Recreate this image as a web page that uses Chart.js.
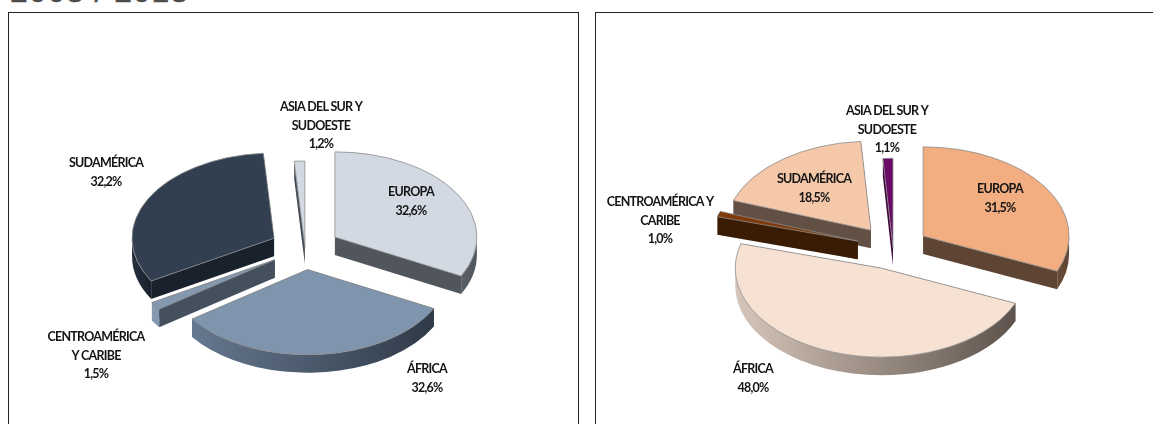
<!DOCTYPE html>
<html>
<head>
<meta charset="utf-8">
<script src="https://cdn.jsdelivr.net/npm/chart.js@4"></script>
<style>
  html, body { margin: 0; padding: 0; background: #fff; overflow: hidden; width: 1153px; height: 424px; }
  #titulo { position: absolute; left: 10px; top: -27px; font: 32px "Liberation Sans", sans-serif; color: #4d4d4d; letter-spacing: 0.9px; white-space: nowrap; -webkit-text-stroke: 0.4px #4d4d4d; }
  .panel { position: absolute; top: 12px; height: 420px; border: 1px solid #222; box-sizing: border-box; }
  #panel1 { left: 8px; width: 571px; }
  #panel2 { left: 595px; width: 570px; border-right: none; }
  .panel canvas { position: absolute; left: 0; top: 0; }
</style>
</head>
<body>
<div id="titulo">2003 / 2013</div>
<div class="panel" id="panel1"><canvas id="pie1" width="570" height="412"></canvas></div>
<div class="panel" id="panel2"><canvas id="pie2" width="558" height="412"></canvas></div>
<script>
const categories1 = [['EUROPA'], ['ÁFRICA'], ['CENTROAMÉRICA', 'Y CARIBE'], ['SUDAMÉRICA'], ['ASIA DEL SUR Y', 'SUDOESTE']];
const categories2 = [['EUROPA'], ['ÁFRICA'], ['CENTROAMÉRICA Y', 'CARIBE'], ['SUDAMÉRICA'], ['ASIA DEL SUR Y', 'SUDOESTE']];
const values1 = [32.6, 32.6, 1.5, 32.2, 1.2];
const values2 = [31.5, 48.0, 1.0, 18.5, 1.1];

const top1 = ['#d2d9e2', '#7f95ae', '#8498b0', '#323f50', '#d2d9e2'];
const top2 = ['#f2ae80', '#f6e1d3', '#7f3a0b', '#f5c8a9', '#6a0a66'];
const face1 = ['#50565c', '#3a4656', '#45505f', '#18212c', '#444c56'];
const face2 = ['#5e4433', '#6a5f57', '#3a1b03', '#635045', '#3d0339'];
const rim1 = [['#5c6166', '#50565c'], ['#66788f', '#2f3a48'], ['#8498b0', '#8498b0'], ['#26303d', '#18212c'], ['#444c56', '#444c56']];
const rim2 = [['#6a4c38', '#5e4433'], ['#d7c6ba', '#5d534c'], ['#3a1b03', '#3a1b03'], ['#635045', '#635045'], ['#3d0339', '#3d0339']];

// apertura de cada sector y sitio del rotulo (centro, primera linea)
const explode1 = [35, 36, 36, 35, 3];
const explode2 = [36, 35, 37, 36.5, 1];
const labelAt1 = [[411, 192], [427, 369], [96, 337], [106, 163], [321, 107]];
const labelAt2 = [[1000, 189], [753, 369], [660, 202], [814, 179], [887, 111]];

function pct(v) {
  return v.toFixed(1).replace('.', ',') + '%';
}

const pie3d = {
  id: 'pie3d',
  afterDatasetsUpdate(chart, args, opts) {
    const arcs = chart.getDatasetMeta(0).data;
    arcs.forEach((arc, i) => {
      const mid = (arc.startAngle + arc.endAngle) / 2;
      arc.baseX = chart.chartArea.left + chart.chartArea.width / 2;
      arc.baseY = chart.chartArea.top + chart.chartArea.height / 2;
      arc.x = arc.baseX + Math.cos(mid) * opts.explode[i];
      arc.y = arc.baseY + Math.sin(mid) * opts.explode[i];
    });
  },
  beforeDatasetsDraw(chart, args, opts) {
    const ctx = chart.ctx;
    const arcs = chart.getDatasetMeta(0).data;
    const cy = arcs[0].baseY;
    const t = opts.tilt;
    const d = opts.depth;
    const order = arcs.map((a, i) => i).sort((p, q) => {
      const mp = (arcs[p].startAngle + arcs[p].endAngle) / 2;
      const mq = (arcs[q].startAngle + arcs[q].endAngle) / 2;
      return (arcs[p].y + Math.sin(mp) * 60) - (arcs[q].y + Math.sin(mq) * 60);
    });

    order.forEach(i => {
      const arc = arcs[i];
      const R = arc.outerRadius;
      const ax = arc.x;
      const ay = cy + (arc.y - cy) * t;
      [arc.endAngle, arc.startAngle].forEach(ang => {
        const px = ax + Math.cos(ang) * R;
        const py = ay + Math.sin(ang) * R * t;
        ctx.beginPath();
        ctx.moveTo(ax, ay);
        ctx.lineTo(px, py);
        ctx.lineTo(px, py + d);
        ctx.lineTo(ax, ay + d);
        ctx.closePath();
        ctx.fillStyle = opts.face[i];
        ctx.fill();
      });
      // only the front half of the outer wall can be seen
      const twoPi = Math.PI * 2;
      let a = arc.startAngle, b = arc.endAngle;
      if (b > twoPi) { a -= twoPi; b -= twoPi; }
      const from = Math.max(a, 0), to = Math.min(b, Math.PI);
      if (to > from) {
        const x0 = ax + Math.cos(to) * R, x1 = ax + Math.cos(from) * R;
        const g = ctx.createLinearGradient(x0, 0, x1, 0);
        g.addColorStop(0, opts.rim[i][0]);
        g.addColorStop(1, opts.rim[i][1]);
        ctx.beginPath();
        ctx.ellipse(ax, ay, R, R * t, 0, from, to);
        ctx.ellipse(ax, ay + d, R, R * t, 0, to, from, true);
        ctx.closePath();
        ctx.fillStyle = g;
        ctx.fill();
      }
    });

    ctx.save();
    ctx.translate(0, cy);
    ctx.scale(1, t);
    ctx.translate(0, -cy);
  },
  afterDatasetsDraw(chart) {
    chart.ctx.restore();
  },
  afterDraw(chart, args, opts) {
    const ctx = chart.ctx;
    const box = chart.canvas.getBoundingClientRect();
    const values = chart.data.datasets[0].data;
    ctx.save();
    ctx.font = 'bold 12.5px Lato, sans-serif';
    ctx.letterSpacing = '-0.75px';
    ctx.fillStyle = '#141414';
    ctx.textAlign = 'center';
    ctx.textBaseline = 'middle';
    chart.data.labels.forEach((lines, i) => {
      const x = opts.labelAt[i][0] - box.left;
      let y = opts.labelAt[i][1] - box.top;
      lines.concat(pct(values[i])).forEach(line => {
        ctx.fillText(line, x, y);
        y += 18.7;
      });
    });
    ctx.restore();
  }
};

function makePie(id, labels, values, colors, radius, extra, padding) {
  return new Chart(document.getElementById(id), {
    type: 'pie',
    data: {
      labels: labels,
      datasets: [{
        data: values,
        backgroundColor: colors,
        borderColor: '#8c8c8c',
        borderWidth: 1,
        hoverOffset: 0,
        radius: radius,
        clip: false
      }]
    },
    plugins: [pie3d],
    options: {
      animation: false,
      responsive: false,
      maintainAspectRatio: false,
      layout: { padding: padding },
      plugins: {
        legend: { display: false },
        tooltip: { enabled: false },
        pie3d: extra
      }
    }
  });
}

makePie('pie1', categories1, values1, top1, 142,
  { explode: explode1, labelAt: labelAt1, face: face1, rim: rim1, tilt: 0.6, depth: 18 },
  { left: 22, top: 58 });
makePie('pie2', categories2, values2, top2, 146,
  { explode: explode2, labelAt: labelAt2, face: face2, rim: rim2, tilt: 0.61, depth: 18 },
  { left: 36, top: 58 });
</script>
</body>
</html>
